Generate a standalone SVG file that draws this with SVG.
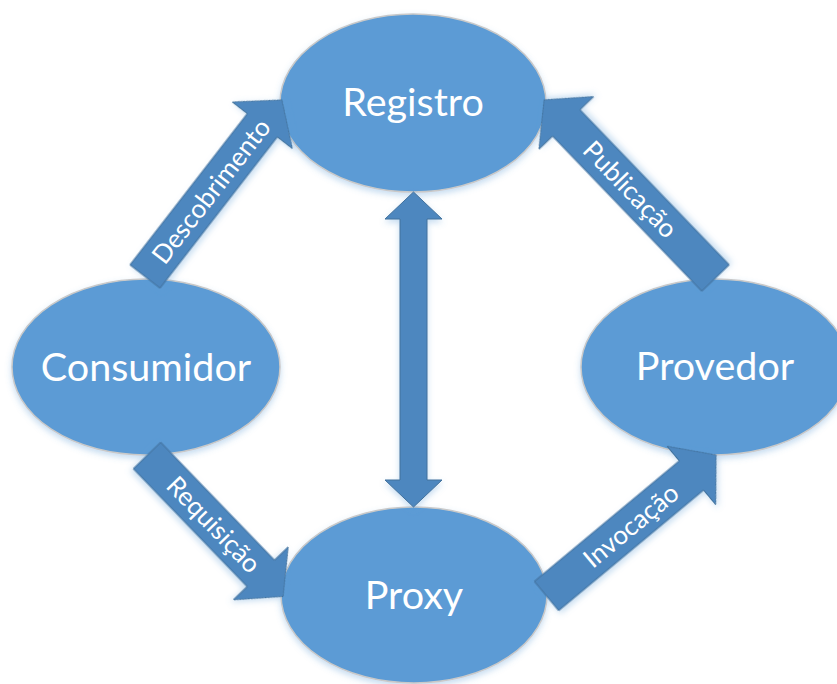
<svg xmlns="http://www.w3.org/2000/svg" width="837" height="684" viewBox="0 0 837 684">
  <style>
    .node { fill: #5B9BD5; stroke: #C9C9C9; stroke-width: 1.5; filter: url(#soft); }
    .node-label { font-family: Lato, "Open Sans", "Liberation Sans", sans-serif; font-size: 39.5px; fill: #FFFFFF; text-anchor: middle; }
    .arrow { fill: #4E87BF; stroke: #41719C; stroke-width: 1; stroke-linejoin: miter; filter: url(#soft); }
    .arrow-label { font-family: Lato, "Open Sans", "Liberation Sans", sans-serif; font-size: 26px; fill: #FFFFFF; text-anchor: middle; }
  </style>
  <defs>
    <filter id="soft" x="-20%" y="-20%" width="140%" height="140%">
      <feDropShadow dx="0" dy="3" stdDeviation="3" flood-color="#5B9BD5" flood-opacity="0.35"/>
    </filter>
  </defs>
  <rect width="837" height="684" fill="#FFFFFF"/>

  <!-- service nodes -->
  <g id="registro">
    <ellipse class="node" cx="413" cy="103" rx="133" ry="89"/>
    <text class="node-label" x="413" y="116">Registro</text>
  </g>
  <g id="consumidor">
    <ellipse class="node" cx="146" cy="367" rx="134" ry="88"/>
    <text class="node-label" x="146" y="381">Consumidor</text>
  </g>
  <g id="provedor">
    <ellipse class="node" cx="715" cy="367" rx="134" ry="88"/>
    <text class="node-label" x="715" y="380">Provedor</text>
  </g>
  <g id="proxy">
    <ellipse class="node" cx="414" cy="595" rx="133" ry="88"/>
    <text class="node-label" x="414" y="609">Proxy</text>
  </g>

  <!-- block-arrow connectors: local frame runs from tail (x=0) to tip (x=L) -->
  <g id="connectors">
    <g id="descobrimento" transform="translate(145,276.5) rotate(-52.2)">
      <path class="arrow" d="M0,-19 L191.4,-19 L191.4,-38 L223.4,0 L191.4,38 L191.4,19 L0,19 Z"/>
      <text class="arrow-label" x="108" y="0" dy="0.35em">Descobrimento</text>
    </g>
    <g id="publicacao" transform="translate(715.5,278) rotate(-133.9)">
      <path class="arrow" d="M0,-19 L215.2,-19 L215.2,-38 L247.2,0 L215.2,38 L215.2,19 L0,19 Z"/>
      <text class="arrow-label" x="123" y="0" dy="0.35em" transform="rotate(180,123,0)">Publicação</text>
    </g>
    <g id="requisicao" transform="translate(147,455.5) rotate(46)">
      <path class="arrow" d="M0,-19 L163.9,-19 L163.9,-38 L195.9,0 L163.9,38 L163.9,19 L0,19 Z"/>
      <text class="arrow-label" x="96" y="0" dy="0.35em">Requisição</text>
    </g>
    <g id="invocacao" transform="translate(546.5,596) rotate(-39.75)">
      <path class="arrow" d="M0,-19 L188.5,-19 L188.5,-38 L220.5,0 L188.5,38 L188.5,19 L0,19 Z"/>
      <text class="arrow-label" x="110" y="0" dy="0.35em">Invocação</text>
    </g>
    <g id="registro-proxy">
      <path class="arrow" d="M413.5,192 L442,219 L427,219 L427,480 L442,480 L413.5,507 L385,480 L400,480 L400,219 L385,219 Z"/>
    </g>
  </g>
</svg>
